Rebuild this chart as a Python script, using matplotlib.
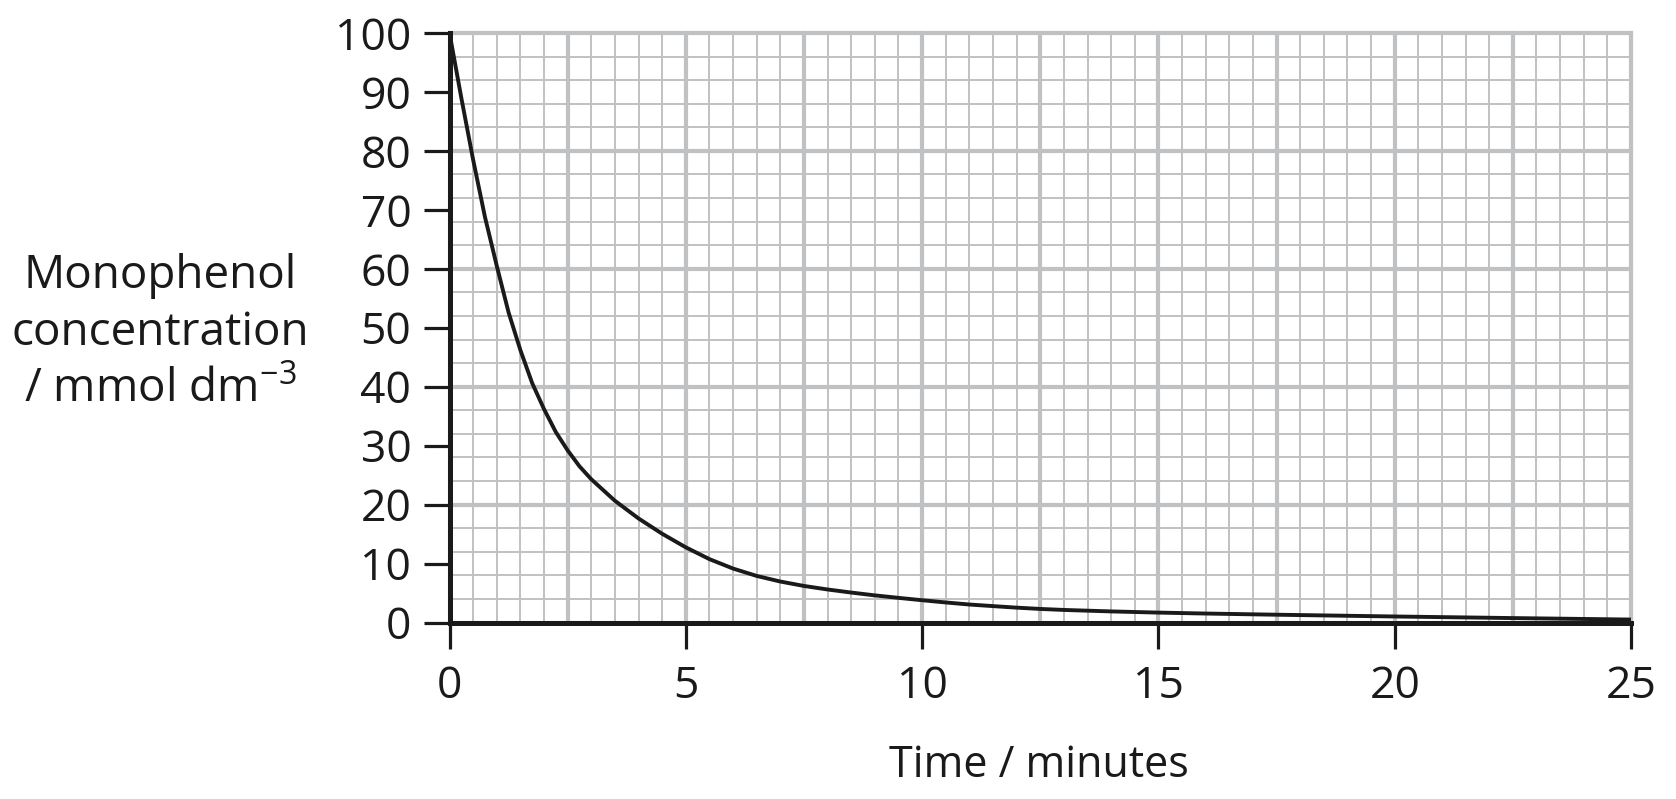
import numpy as np
import matplotlib
matplotlib.use("Agg")
import matplotlib.pyplot as plt

# Data
time_min = [0, 0.25, 0.5, 0.75, 1.0, 1.25, 1.5, 1.75, 2.0, 2.25, 2.5, 2.75, 3.0,
            3.5, 4.0, 4.5, 5.0, 5.5, 6.0, 6.5, 7.0, 7.5, 8.0, 8.5, 9.0, 9.5, 10.0,
            10.5, 11.0, 11.5, 12.0, 12.5, 13.0, 14.0, 15.0, 16.0, 17.5, 20.0, 22.5, 25.0]
conc = [100, 89, 78.5, 68.8, 60.5, 52.6, 46.2, 40.6, 36.2, 32.3, 29.2, 26.5, 24.3,
        20.65, 17.65, 15.05, 12.75, 10.75, 9.15, 7.9, 6.95, 6.2, 5.6, 5.08, 4.6, 4.18, 3.78,
        3.4, 3.05, 2.78, 2.52, 2.3, 2.13, 1.88, 1.68, 1.52, 1.32, 1.02, 0.75, 0.5]
x_ticks = [0, 5, 10, 15, 20, 25]
y_ticks = [0, 10, 20, 30, 40, 50, 60, 70, 80, 90, 100]

plt.rcParams['font.family'] = ['Open Sans', 'DejaVu Sans']
plt.rcParams['mathtext.fontset'] = 'custom'
plt.rcParams['mathtext.rm'] = 'Open Sans'
plt.rcParams['mathtext.it'] = 'Open Sans'

fig = plt.figure(figsize=(16.76, 7.99), dpi=100)
ax = fig.add_axes([449.5/1676, 1 - 622.5/799, (1631-449.5)/1676, (622.5-33)/799])

grid_col = '#c0c1c3'
# minor grid (0.5 min, 4 units)
for xv in np.arange(0, 25.01, 0.5):
    ax.axvline(xv, color=grid_col, lw=1.4, zorder=1)
for yv in np.arange(0, 100.01, 4):
    ax.axhline(yv, color=grid_col, lw=1.4, zorder=1)
# major grid (2.5 min, 20 units)
for xv in np.arange(0, 25.01, 2.5):
    ax.axvline(xv, color=grid_col, lw=3.0, zorder=1.5, clip_on=False)
for yv in np.arange(0, 100.01, 20):
    ax.axhline(yv, color=grid_col, lw=3.0, zorder=1.5, clip_on=False)

ax.plot(time_min, conc, color='#1a1a1a', lw=2.8, zorder=3,
        solid_joinstyle='round', solid_capstyle='butt')

ax.set_xlim(0, 25)
ax.set_ylim(0, 100)
ax.set_xticks(x_ticks)
ax.set_yticks(y_ticks)
ax.set_xticklabels([str(v) for v in x_ticks])
ax.set_yticklabels([str(v) for v in y_ticks])

for s in ['top', 'right']:
    ax.spines[s].set_visible(False)
for s in ['left', 'bottom']:
    ax.spines[s].set_linewidth(3.6)
    ax.spines[s].set_color('#1a1a1a')
    ax.spines[s].set_zorder(4)

ax.tick_params(axis='both', direction='out', length=18.5, width=2.3, color='#1a1a1a',
               labelsize=32, labelcolor='#1a1a1a')
ax.tick_params(axis='y', pad=9)
ax.tick_params(axis='x', pad=12)

fig.text(160/1676, 1 - 333/799,
         "Monophenol\nconcentration\n/ mmol dm$^{\\mathregular{\u22123}}$",
         ha='center', va='center', fontsize=33, color='#1a1a1a', linespacing=1.32)
fig.text(1039/1676, 1 - 766/799, "Time / minutes", ha='center', va='center',
         fontsize=31, color='#1a1a1a')

fig.savefig("out.png", dpi=100, facecolor='white')
